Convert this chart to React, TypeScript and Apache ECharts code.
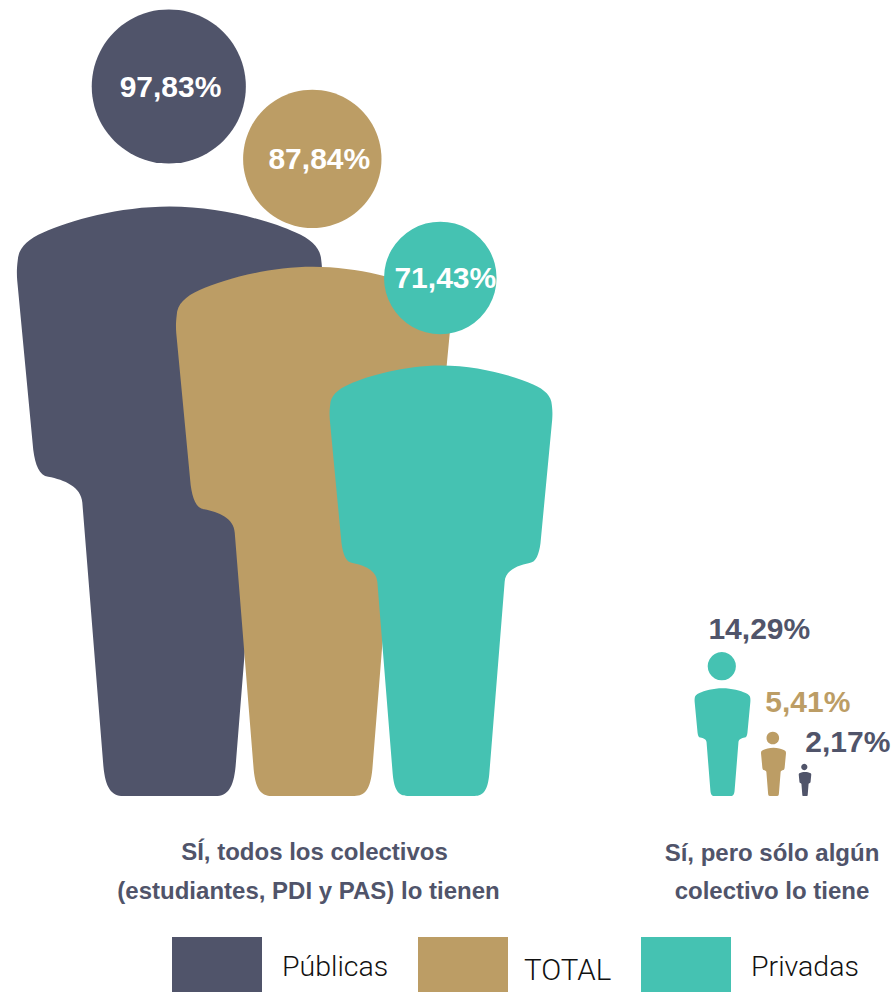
import React, { useEffect, useRef } from "react";
import * as echarts from "echarts";

const groups = ["Públicas", "TOTAL", "Privadas"];
const colors = ["#50546a", "#bc9d65", "#45c2b2"];
const captionLines = [
  "SÍ, todos los colectivos",
  "(estudiantes, PDI y PAS) lo tienen",
  "Sí, pero sólo algún",
  "colectivo lo tiene",
];
// "Sí, todos" percentages (the figure height equals the value)
const todosValues = [97.83, 87.84, 71.43];
// "Sí, pero sólo algún" percentages and the height at which each figure is drawn
const algunValues = [2.17, 5.41, 14.29];
const algunDrawnHeights = [4, 8, 17.9];

// layout (pixel-based x axis, label offsets from the centre of the head)
const W = 894;
const H = 992;
const BASE = 796;
const todosX = [169.5, 313, 441];
const algunX = [805, 773.5, 722.5];
const todosLabelOffset = [[1.7, 0], [7, 0], [5, 0]];
const algunLabelOffset = [[43.5, -25], [35, -36], [37.5, -38]];
const algunLabelColor = [colors[0], colors[1], colors[0]];
const legendLeft = [172, 418, 641];
const legendTextPad = [[4, 15], [10, 11], [4, 15]];
const captionPos = [[314.5, 851], [308.5, 890], [772, 852], [772, 890]];

// person silhouette, in a box 305 wide and 786 tall
const FULL = 786;
const BODY_TOP = 589;
const BODY_HALF = 152.5;
const HEAD_R = 77;
const HEAD_Y = 709;
const bodyPath =
  "M0,-589 C-50,-589 -100,-575 -126,-563 C-142,-556 -151,-547 -151.5,-535 C-152.5,-527 -152.5,-522 -152,-515 " +
  "L-136,-346 C-134,-331 -130,-320 -121,-319 C-105,-316 -88,-309 -87,-293 L-66,-30 C-64,-8 -58,0 -46,0 " +
  "L46,0 C58,0 64,-8 66,-30 L87,-293 C88,-309 105,-316 121,-319 C130,-320 134,-331 136,-346 " +
  "L152,-515 C152.5,-522 152.5,-527 151.5,-535 C151,-547 142,-556 126,-563 C100,-575 50,-589 0,-589 Z";

const fmt = (v: number) => v.toFixed(2).replace(".", ",") + "%";
const font = "Liberation Sans, Arial, sans-serif";

function renderPerson(color: string) {
  return (params: any, api: any) => {
    const cx = api.value(0);
    const drawn = api.value(1);
    const value = api.value(2);
    const dx = api.value(3);
    const dy = api.value(4);
    const labelColor = api.value(5) < 0 ? "#ffffff" : algunLabelColor[api.value(5)];
    const foot = api.coord([cx, 0]);
    const top = api.coord([cx, drawn]);
    const s = (foot[1] - top[1]) / FULL;
    const headX = foot[0] - 0.7;
    const headY = foot[1] - HEAD_Y * s;
    return {
      type: "group",
      children: [
        {
          type: "path",
          shape: {
            pathData: bodyPath,
            x: foot[0] - BODY_HALF * s,
            y: foot[1] - BODY_TOP * s,
            width: 2 * BODY_HALF * s,
            height: BODY_TOP * s,
            layout: "cover",
          },
          style: { fill: color },
        },
        {
          type: "circle",
          shape: { cx: headX, cy: headY, r: HEAD_R * s },
          style: { fill: color },
        },
        {
          type: "text",
          x: headX + dx,
          y: headY + dy,
          style: {
            text: fmt(value),
            fill: labelColor,
            font: `bold 30px ${font}`,
            align: "center",
            verticalAlign: "middle",
          },
        },
      ],
    };
  };
}

export default function App() {
  const ref = useRef<HTMLDivElement>(null);
  useEffect(() => {
    if (!ref.current) return;
    const chart = echarts.init(ref.current, undefined, { renderer: "svg" });
    chart.setOption({
      animation: false,
      backgroundColor: "#ffffff",
      grid: { left: 0, top: 0, width: W, height: BASE },
      xAxis: { type: "value", min: 0, max: W, show: false },
      yAxis: { type: "value", min: 0, max: 99, show: false },
      legend: groups.map((name, i) => ({
        data: [name],
        left: legendLeft[i],
        top: 937,
        padding: 0,
        icon: "rect",
        itemWidth: 90,
        itemHeight: 55,
        selectedMode: false,
        formatter: (n: string) => `{t|${n}}`,
        textStyle: {
          rich: {
            t: {
              fontFamily: "Roboto, sans-serif",
              fontWeight: 300,
              fontSize: i === 1 ? 29.5 : 28.5,
              color: "#111111",
              padding: [legendTextPad[i][0], 0, 0, legendTextPad[i][1]],
            },
          },
        },
      })),
      series: groups.map((name, i) => ({
        name,
        type: "custom",
        coordinateSystem: "cartesian2d",
        itemStyle: { color: colors[i] },
        encode: { x: 0, y: 1 },
        renderItem: renderPerson(colors[i]),
        data: [
          [todosX[i], todosValues[i], todosValues[i], todosLabelOffset[i][0], todosLabelOffset[i][1], -1],
          [algunX[i], algunDrawnHeights[i], algunValues[i], algunLabelOffset[i][0], algunLabelOffset[i][1], i],
        ],
      })),
      graphic: captionLines.map((text, i) => ({
        type: "text",
        x: captionPos[i][0],
        y: captionPos[i][1],
        style: {
          text,
          fill: colors[0],
          font: `bold 24px ${font}`,
          align: "center",
          verticalAlign: "middle",
        },
      })),
    });
    return () => chart.dispose();
  }, []);
  return (
    <div
      ref={ref}
      style={{ position: "absolute", left: 0, top: 0, width: W, height: H }}
    />
  );
}
